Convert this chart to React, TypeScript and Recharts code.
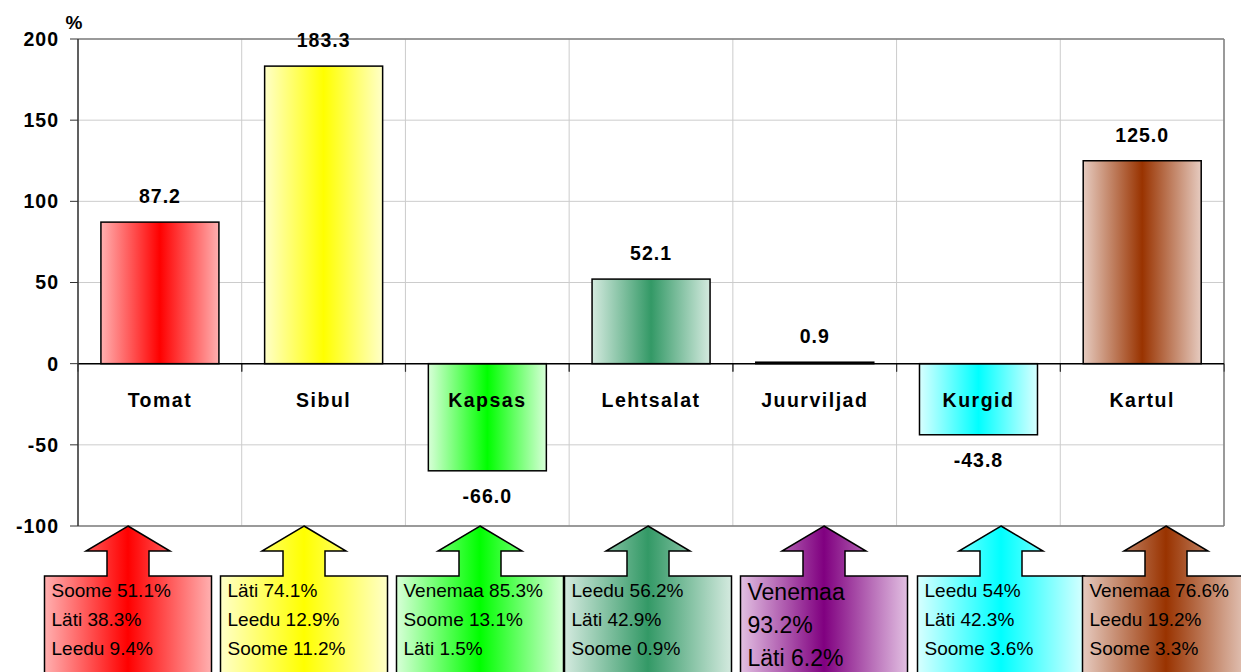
import React from "react";
import {
  BarChart,
  Bar,
  XAxis,
  YAxis,
  CartesianGrid,
  ReferenceLine,
  Customized,
} from "recharts";

// ---------- data ----------
const categories = ["Tomat", "Sibul", "Kapsas", "Lehtsalat", "Juurviljad", "Kurgid", "Kartul"];
const changes = [87.2, 183.3, -66.0, 52.1, 0.9, -43.8, 125.0];
const yTicks = [-100, -50, 0, 50, 100, 150, 200];
const calloutLines = [
  ["Soome 51.1%", "Läti 38.3%", "Leedu 9.4%"],
  ["Läti 74.1%", "Leedu 12.9%", "Soome 11.2%"],
  ["Venemaa 85.3%", "Soome 13.1%", "Läti 1.5%"],
  ["Leedu 56.2%", "Läti 42.9%", "Soome 0.9%"],
  ["Venemaa", "93.2%", "Läti 6.2%"],
  ["Leedu 54%", "Läti 42.3%", "Soome 3.6%"],
  ["Venemaa 76.6%", "Leedu 19.2%", "Soome 3.3%"],
];

// ---------- styles / layout ----------
const centerColors = ["#FF0000", "#FFFF00", "#00FF00", "#339966", "#800080", "#00FFFF", "#993300"];
const edgeColors = ["#FFB0B0", "#FFFFC8", "#D8FFD8", "#D4EADF", "#E2C0E2", "#D8FFFF", "#E6CBC0"];
const calloutCenters = [128, 304, 480, 648, 824, 1001, 1166];
const FONT = "'Liberation Sans', Arial, Helvetica, sans-serif";
const W = 1241;
const H = 672;
const MARGIN = { top: 39, right: 17, bottom: 146, left: 18 };
const Y_AXIS_W = 60;
const PLOT_BOTTOM = H - MARGIN.bottom;
const GAP = 0.14;

const data = categories.map((name, i) => ({ name, value: changes[i], idx: i }));

function BarShape(props: any) {
  const { x, y, width, height, payload } = props;
  const i = payload.idx;
  const v = payload.value;
  const top = Math.min(y, y + height);
  const bottom = Math.max(y, y + height);
  const h = Math.max(bottom - top, 0.5);
  const zeroY = v >= 0 ? bottom : top;
  const band = width / (1 - 2 * GAP);
  const side = (band - width) / 2;
  const labelY = v >= 0 ? top - 19 : bottom + 32;
  return (
    <g>
      <rect x={x} y={top} width={width} height={h} fill={`url(#bargrad${i})`} stroke="#000" strokeWidth={1.5} />
      <line x1={x - side} x2={x - side} y1={zeroY} y2={zeroY + 8} stroke="#333" strokeWidth={1} />
      <line x1={x + width + side} x2={x + width + side} y1={zeroY} y2={zeroY + 8} stroke="#333" strokeWidth={1} />
      <text x={x + width / 2} y={labelY} textAnchor="middle" fontFamily={FONT} fontWeight="bold" fontSize={19.5} letterSpacing={1} fill="#000">
        {v.toFixed(1)}
      </text>
      <text x={x + width / 2} y={zeroY + 43} textAnchor="middle" fontFamily={FONT} fontWeight="bold" fontSize={19.5} letterSpacing={1.5} fill="#000">
        {payload.name}
      </text>
    </g>
  );
}

function Overlay() {
  const t = PLOT_BOTTOM;
  return (
    <g>
      <defs>
        {centerColors.map((c, i) => (
          <linearGradient key={i} id={`bargrad${i}`} x1="0" y1="0" x2="1" y2="0">
            <stop offset="0%" stopColor={edgeColors[i]} />
            <stop offset="50%" stopColor={c} />
            <stop offset="100%" stopColor={edgeColors[i]} />
          </linearGradient>
        ))}
      </defs>
      <text x={74} y={29} textAnchor="middle" fontFamily={FONT} fontWeight="bold" fontSize={19} fill="#000">%</text>
      {calloutCenters.map((cx, i) => {
        const hw = 83.5;
        const d = `M${cx},${t} L${cx + 42},${t + 25} L${cx + 21},${t + 25} L${cx + 21},${t + 50} L${cx + hw},${t + 50} L${cx + hw},${H + 20} L${cx - hw},${H + 20} L${cx - hw},${t + 50} L${cx - 21},${t + 50} L${cx - 21},${t + 25} L${cx - 42},${t + 25} Z`;
        const big = i === 4;
        const fs = big ? 23 : 19;
        const step = big ? 33 : 29;
        const base = big ? t + 74 : t + 71;
        return (
          <g key={i}>
            <path d={d} fill={`url(#bargrad${i})`} stroke="#000" strokeWidth={1.5} />
            {calloutLines[i].map((line, j) => (
              <text key={j} x={cx - hw + 7} y={base + j * step} fontFamily={FONT} fontSize={fs} fill="#000">
                {line}
              </text>
            ))}
          </g>
        );
      })}
    </g>
  );
}

export default function App() {
  return (
    <div style={{ position: "absolute", left: 0, top: 0, width: W, height: H, overflow: "hidden", background: "#fff" }}>
      <BarChart width={W} height={H} data={data} margin={MARGIN} barCategoryGap={`${GAP * 100}%`}>
        <CartesianGrid
          stroke="#CCCCCC"
          verticalCoordinatesGenerator={({ offset }: any) =>
            Array.from({ length: categories.length + 1 }, (_, k) => offset.left + (k * offset.width) / categories.length)
          }
        />
        <CartesianGrid
          stroke="#808080"
          strokeWidth={1.5}
          horizontalCoordinatesGenerator={({ offset }: any) => [offset.top, offset.top + offset.height]}
          verticalCoordinatesGenerator={({ offset }: any) => [offset.left + offset.width]}
        />
        <XAxis dataKey="name" hide />
        <YAxis
          width={Y_AXIS_W}
          domain={[-100, 200]}
          ticks={yTicks}
          interval={0}
          tickSize={8}
          tickMargin={11}
          axisLine={{ stroke: "#333", strokeWidth: 1.5 }}
          tickLine={{ stroke: "#333" }}
          tick={{ fill: "#000", fontSize: 19.5, fontWeight: "bold", fontFamily: FONT, letterSpacing: 1 }}
        />
        <ReferenceLine y={0} stroke="#000" strokeWidth={1.5} />
        <Bar dataKey="value" isAnimationActive={false} shape={(p: any) => <BarShape {...p} />} />
        <Customized component={<Overlay />} />
      </BarChart>
    </div>
  );
}
